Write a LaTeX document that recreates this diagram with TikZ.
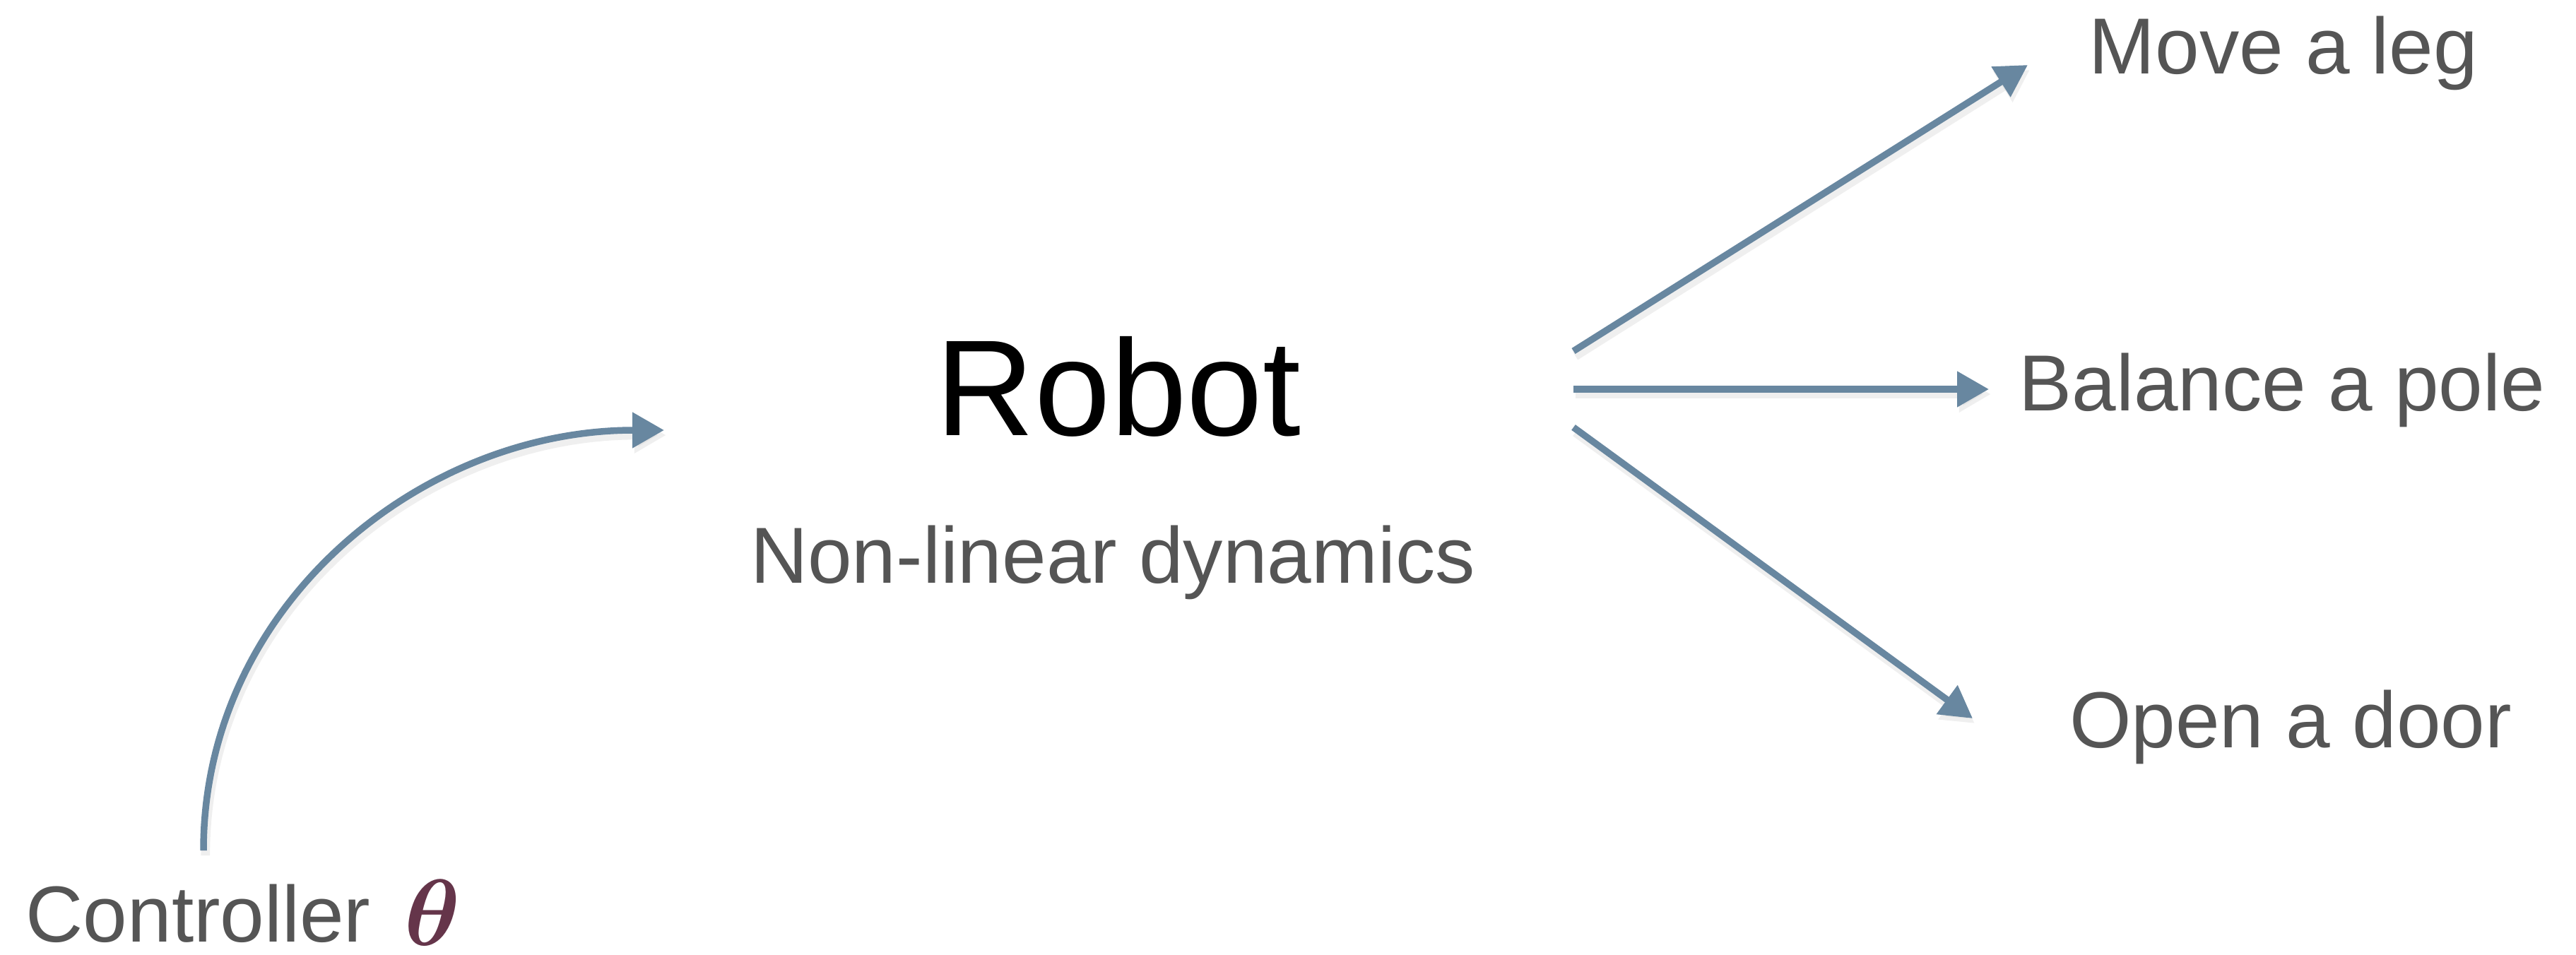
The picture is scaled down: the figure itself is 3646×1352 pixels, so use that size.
\RequirePackage{fix-cm}
\documentclass[tikz,border=0pt]{standalone}
\usepackage{fontspec}
\setmainfont{Liberation Sans}
\usepackage{amsmath}
\usepackage{bm}
\usetikzlibrary{arrows.meta}
\definecolor{txtgray}{RGB}{85,85,85}
\definecolor{arrowblue}{RGB}{104,135,160}
\definecolor{thetacol}{RGB}{101,53,74}
\begin{document}
\begin{tikzpicture}[x=0.01cm,y=-0.01cm,
  lbl/.style={inner sep=0pt, text=txtgray, font=\fontsize{32}{38}\selectfont, anchor=base},
  conn/.style={draw=arrowblue, line width=2.7pt,
    -{Triangle[length=12.8pt,width=13.8pt]},
    preaction={draw=black!20, draw opacity=0.3, fill opacity=0.3, line width=3.6pt,
      transform canvas={xshift=0.8pt,yshift=-2pt}}}]
\useasboundingbox[fill=white] (0,0) rectangle (3646,1352);
% texts
\node[lbl, font=\fontsize{55}{66}\selectfont, text=black] (robot) at (1583,616) {Robot};
\node[lbl] (dyn) at (1575,825) {Non-linear dynamics};
\node[lbl] (leg) at (3232,105) {Move a leg};
\node[lbl] (pole) at (3230,581) {Balance a pole};
\node[lbl] (door) at (3242,1058) {Open a door};
\node[lbl, anchor=base west] (ctrl) at (36,1333) {Controller};
\node[inner sep=0pt, anchor=base west, text=thetacol, font=\fontsize{38}{44}\selectfont] (theta) at (572,1338) {$\bm{\theta}$};
% connector end points
\coordinate (cstart) at (288,1204);
\coordinate (ctip) at (940,609);
\coordinate (s1) at (2227,497);
\coordinate (t1) at (2870,92);
\coordinate (s2) at (2227,551);
\coordinate (t2) at (2815,551);
\coordinate (s3) at (2227,605);
\coordinate (t3) at (2792,1017);
% connectors
\draw[conn] (cstart) to[out=90,in=180] (ctip);
\draw[conn] (s1) -- (t1);
\draw[conn] (s2) -- (t2);
\draw[conn] (s3) -- (t3);
\end{tikzpicture}
\end{document}
